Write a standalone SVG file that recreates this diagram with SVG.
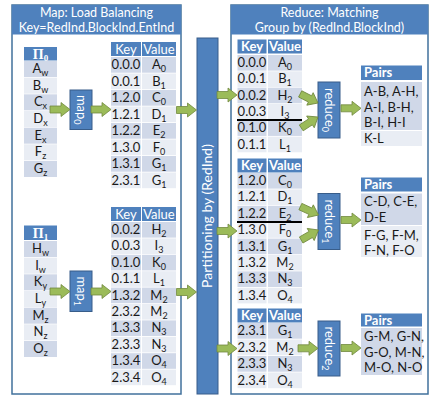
<svg xmlns="http://www.w3.org/2000/svg" xmlns:xlink="http://www.w3.org/1999/xlink" width="435" height="407" viewBox="0 0 435 407">
<style>
.pan{fill:#fff;stroke:#41719C;stroke-width:1.5}
.hb{fill:#4F81BD}
.box{fill:#4F81BD;stroke:#385D8A;stroke-width:1}
.d{fill:#D0D8E8}
.l{fill:#E9EDF4}
text{font-family:Lato,"Liberation Sans",sans-serif;font-size:13px;fill:#1a1a1a}
.c{text-anchor:middle}
.w{fill:#fff}
.b{font-weight:bold}
.ti{font-size:12.5px;fill:#fff;text-anchor:middle}
.tp{font-size:14px;fill:#fff;text-anchor:middle}
.s{font-size:9px}
.pi{font-family:"Liberation Serif",serif;font-weight:bold;fill:#fff;font-size:14px}
.arr{fill:#9BBB59;stroke:#71893F;stroke-width:0.8}
.cut{stroke:#000;stroke-width:2.2}
</style>
<defs>
<path id="ah" d="M-20,-3.5 H-9 V-7 L0,0 L-9,7 V3.5 H-20 Z"/>
</defs>

<g id="map-panel">
<rect class="pan" x="12" y="5" width="169" height="389"/>
<rect class="hb" x="12" y="5" width="169" height="29.5"/>
<text class="ti" x="96.5" y="16.5">Map: Load Balancing</text>
<text class="ti" x="96.5" y="32">Key=RedInd.BlockInd.EntInd</text>
</g>

<g id="pi0">
<rect class="hb" x="24" y="47" width="33" height="13.5"/>
<text class="pi c" x="40.5" y="58.5">Π<tspan class="s" dy="2">0</tspan></text>
<rect class="d" x="24" y="61" width="33" height="16"/>
<rect class="l" x="24" y="77.67" width="33" height="16"/>
<rect class="d" x="24" y="94.33" width="33" height="16"/>
<rect class="l" x="24" y="111" width="33" height="16"/>
<rect class="d" x="24" y="127.67" width="33" height="16"/>
<rect class="l" x="24" y="144.33" width="33" height="16"/>
<rect class="d" x="24" y="161" width="33" height="16"/>
<text class="c" x="40.5" y="73">A<tspan class="s" dy="3">w</tspan></text>
<text class="c" x="40.5" y="89.67">B<tspan class="s" dy="3">w</tspan></text>
<text class="c" x="40.5" y="106.33">C<tspan class="s" dy="3">x</tspan></text>
<text class="c" x="40.5" y="123">D<tspan class="s" dy="3">x</tspan></text>
<text class="c" x="40.5" y="139.67">E<tspan class="s" dy="3">x</tspan></text>
<text class="c" x="40.5" y="156.33">F<tspan class="s" dy="3">z</tspan></text>
<text class="c" x="40.5" y="173">G<tspan class="s" dy="3">z</tspan></text>
</g>

<g id="pi1">
<rect class="hb" x="24" y="225.5" width="33" height="14.5"/>
<text class="pi c" x="40.5" y="237.5">Π<tspan class="s" dy="2">1</tspan></text>
<rect class="d" x="24" y="241" width="33" height="16"/>
<rect class="l" x="24" y="257.67" width="33" height="16"/>
<rect class="d" x="24" y="274.33" width="33" height="16"/>
<rect class="l" x="24" y="291" width="33" height="16"/>
<rect class="d" x="24" y="307.67" width="33" height="16"/>
<rect class="l" x="24" y="324.33" width="33" height="16"/>
<rect class="d" x="24" y="341" width="33" height="16"/>
<text class="c" x="40.5" y="253">H<tspan class="s" dy="3">w</tspan></text>
<text class="c" x="40.5" y="269.67">I<tspan class="s" dy="3">w</tspan></text>
<text class="c" x="40.5" y="286.33">K<tspan class="s" dy="3">y</tspan></text>
<text class="c" x="40.5" y="303">L<tspan class="s" dy="3">y</tspan></text>
<text class="c" x="40.5" y="319.67">M<tspan class="s" dy="3">z</tspan></text>
<text class="c" x="40.5" y="336.33">N<tspan class="s" dy="3">z</tspan></text>
<text class="c" x="40.5" y="353">O<tspan class="s" dy="3">z</tspan></text>
</g>

<g id="map0">
<rect class="box" x="70" y="90" width="22" height="39.5"/>
<text class="w c" transform="translate(77,109.75) rotate(90)">map<tspan class="s" dy="3">0</tspan></text>
</g>
<g id="map1">
<rect class="box" x="70" y="271" width="22" height="40.5"/>
<text class="w c" transform="translate(77,291.25) rotate(90)">map<tspan class="s" dy="3">1</tspan></text>
</g>

<g id="kv-map0">
<rect class="hb" x="111" y="42" width="30" height="14"/>
<rect class="hb" x="142" y="42" width="34" height="14"/>
<text class="w c" x="126" y="53.5">Key</text>
<text class="w c" x="159" y="53.5">Value</text>
<rect class="d" x="111" y="57" width="30" height="15.7"/><rect class="d" x="142" y="57" width="34" height="15.7"/>
<rect class="l" x="111" y="73.5" width="30" height="15.7"/><rect class="l" x="142" y="73.5" width="34" height="15.7"/>
<rect class="d" x="111" y="90" width="30" height="15.7"/><rect class="d" x="142" y="90" width="34" height="15.7"/>
<rect class="l" x="111" y="106.5" width="30" height="15.7"/><rect class="l" x="142" y="106.5" width="34" height="15.7"/>
<rect class="d" x="111" y="123" width="30" height="15.7"/><rect class="d" x="142" y="123" width="34" height="15.7"/>
<rect class="l" x="111" y="139.5" width="30" height="15.7"/><rect class="l" x="142" y="139.5" width="34" height="15.7"/>
<rect class="d" x="111" y="156" width="30" height="15.7"/><rect class="d" x="142" y="156" width="34" height="15.7"/>
<rect class="l" x="111" y="172.5" width="30" height="15.7"/><rect class="l" x="142" y="172.5" width="34" height="15.7"/>
<text class="c" x="126" y="69">0.0.0</text><text class="c" x="159" y="69">A<tspan class="s" dy="3">0</tspan></text>
<text class="c" x="126" y="85.5">0.0.1</text><text class="c" x="159" y="85.5">B<tspan class="s" dy="3">1</tspan></text>
<text class="c" x="126" y="102">1.2.0</text><text class="c" x="159" y="102">C<tspan class="s" dy="3">0</tspan></text>
<text class="c" x="126" y="118.5">1.2.1</text><text class="c" x="159" y="118.5">D<tspan class="s" dy="3">1</tspan></text>
<text class="c" x="126" y="135">1.2.2</text><text class="c" x="159" y="135">E<tspan class="s" dy="3">2</tspan></text>
<text class="c" x="126" y="151.5">1.3.0</text><text class="c" x="159" y="151.5">F<tspan class="s" dy="3">0</tspan></text>
<text class="c" x="126" y="168">1.3.1</text><text class="c" x="159" y="168">G<tspan class="s" dy="3">1</tspan></text>
<text class="c" x="126" y="184.5">2.3.1</text><text class="c" x="159" y="184.5">G<tspan class="s" dy="3">1</tspan></text>
</g>

<g id="kv-map1">
<rect class="hb" x="111" y="207" width="30" height="14"/>
<rect class="hb" x="142" y="207" width="34" height="14"/>
<text class="w c" x="126" y="218.5">Key</text>
<text class="w c" x="159" y="218.5">Value</text>
<rect class="d" x="111" y="222" width="30" height="15.6"/><rect class="d" x="142" y="222" width="34" height="15.6"/>
<rect class="l" x="111" y="238.4" width="30" height="15.6"/><rect class="l" x="142" y="238.4" width="34" height="15.6"/>
<rect class="d" x="111" y="254.8" width="30" height="15.6"/><rect class="d" x="142" y="254.8" width="34" height="15.6"/>
<rect class="l" x="111" y="271.2" width="30" height="15.6"/><rect class="l" x="142" y="271.2" width="34" height="15.6"/>
<rect class="d" x="111" y="287.6" width="30" height="15.6"/><rect class="d" x="142" y="287.6" width="34" height="15.6"/>
<rect class="l" x="111" y="304" width="30" height="15.6"/><rect class="l" x="142" y="304" width="34" height="15.6"/>
<rect class="d" x="111" y="320.4" width="30" height="15.6"/><rect class="d" x="142" y="320.4" width="34" height="15.6"/>
<rect class="l" x="111" y="336.8" width="30" height="15.6"/><rect class="l" x="142" y="336.8" width="34" height="15.6"/>
<rect class="d" x="111" y="353.2" width="30" height="15.6"/><rect class="d" x="142" y="353.2" width="34" height="15.6"/>
<rect class="l" x="111" y="369.6" width="30" height="15.6"/><rect class="l" x="142" y="369.6" width="34" height="15.6"/>
<text class="c" x="126" y="234">0.0.2</text><text class="c" x="159" y="234">H<tspan class="s" dy="3">2</tspan></text>
<text class="c" x="126" y="250.4">0.0.3</text><text class="c" x="159" y="250.4">I<tspan class="s" dy="3">3</tspan></text>
<text class="c" x="126" y="266.8">0.1.0</text><text class="c" x="159" y="266.8">K<tspan class="s" dy="3">0</tspan></text>
<text class="c" x="126" y="283.2">0.1.1</text><text class="c" x="159" y="283.2">L<tspan class="s" dy="3">1</tspan></text>
<text class="c" x="126" y="299.6">1.3.2</text><text class="c" x="159" y="299.6">M<tspan class="s" dy="3">2</tspan></text>
<text class="c" x="126" y="316">2.3.2</text><text class="c" x="159" y="316">M<tspan class="s" dy="3">2</tspan></text>
<text class="c" x="126" y="332.4">1.3.3</text><text class="c" x="159" y="332.4">N<tspan class="s" dy="3">3</tspan></text>
<text class="c" x="126" y="348.8">2.3.3</text><text class="c" x="159" y="348.8">N<tspan class="s" dy="3">3</tspan></text>
<text class="c" x="126" y="365.2">1.3.4</text><text class="c" x="159" y="365.2">O<tspan class="s" dy="3">4</tspan></text>
<text class="c" x="126" y="381.6">2.3.4</text><text class="c" x="159" y="381.6">O<tspan class="s" dy="3">4</tspan></text>
</g>

<g id="partition">
<rect class="box" x="197" y="38" width="21" height="356"/>
<text class="tp" transform="translate(212,216) rotate(-90)">Partitioning by (RedInd)</text>
</g>

<g id="reduce-panel">
<rect class="pan" x="231" y="5" width="197" height="389"/>
<rect class="hb" x="231" y="5" width="197" height="29.5"/>
<text class="ti" x="329.5" y="16.5">Reduce: Matching</text>
<text class="ti" x="329.5" y="32">Group by (RedInd.BlockInd)</text>
</g>

<g id="kv-red0">
<rect class="hb" x="237.5" y="39.5" width="29" height="14"/>
<rect class="hb" x="268" y="39.5" width="34" height="14"/>
<text class="w c b" x="252" y="51">Key</text>
<text class="w c b" x="285" y="51">Value</text>
<rect class="d" x="237.5" y="55" width="29" height="15.6"/><rect class="d" x="268" y="55" width="34" height="15.6"/>
<rect class="l" x="237.5" y="71.33" width="29" height="15.6"/><rect class="l" x="268" y="71.33" width="34" height="15.6"/>
<rect class="d" x="237.5" y="87.67" width="29" height="15.6"/><rect class="d" x="268" y="87.67" width="34" height="15.6"/>
<rect class="l" x="237.5" y="104" width="29" height="15.6"/><rect class="l" x="268" y="104" width="34" height="15.6"/>
<rect class="d" x="237.5" y="120.33" width="29" height="15.6"/><rect class="d" x="268" y="120.33" width="34" height="15.6"/>
<rect class="l" x="237.5" y="136.67" width="29" height="15.6"/><rect class="l" x="268" y="136.67" width="34" height="15.6"/>
<text class="c" x="252" y="67">0.0.0</text><text class="c" x="285" y="67">A<tspan class="s" dy="3">0</tspan></text>
<text class="c" x="252" y="83.33">0.0.1</text><text class="c" x="285" y="83.33">B<tspan class="s" dy="3">1</tspan></text>
<text class="c" x="252" y="99.67">0.0.2</text><text class="c" x="285" y="99.67">H<tspan class="s" dy="3">2</tspan></text>
<text class="c" x="252" y="116">0.0.3</text><text class="c" x="285" y="116">I<tspan class="s" dy="3">3</tspan></text>
<text class="c" x="252" y="132.33">0.1.0</text><text class="c" x="285" y="132.33">K<tspan class="s" dy="3">0</tspan></text>
<text class="c" x="252" y="148.67">0.1.1</text><text class="c" x="285" y="148.67">L<tspan class="s" dy="3">1</tspan></text>
<line class="cut" x1="237" y1="120" x2="302" y2="120"/>
</g>

<g id="kv-red1">
<rect class="hb" x="237.5" y="158.5" width="29" height="14"/>
<rect class="hb" x="268" y="158.5" width="34" height="14"/>
<text class="w c b" x="252" y="170">Key</text>
<text class="w c b" x="285" y="170">Value</text>
<rect class="d" x="237.5" y="173" width="29" height="15.6"/><rect class="d" x="268" y="173" width="34" height="15.6"/>
<rect class="l" x="237.5" y="189.4" width="29" height="15.6"/><rect class="l" x="268" y="189.4" width="34" height="15.6"/>
<rect class="d" x="237.5" y="205.8" width="29" height="15.6"/><rect class="d" x="268" y="205.8" width="34" height="15.6"/>
<rect class="l" x="237.5" y="222.2" width="29" height="15.6"/><rect class="l" x="268" y="222.2" width="34" height="15.6"/>
<rect class="d" x="237.5" y="238.6" width="29" height="15.6"/><rect class="d" x="268" y="238.6" width="34" height="15.6"/>
<rect class="l" x="237.5" y="255" width="29" height="15.6"/><rect class="l" x="268" y="255" width="34" height="15.6"/>
<rect class="d" x="237.5" y="271.4" width="29" height="15.6"/><rect class="d" x="268" y="271.4" width="34" height="15.6"/>
<rect class="l" x="237.5" y="287.8" width="29" height="15.6"/><rect class="l" x="268" y="287.8" width="34" height="15.6"/>
<text class="c" x="252" y="185">1.2.0</text><text class="c" x="285" y="185">C<tspan class="s" dy="3">0</tspan></text>
<text class="c" x="252" y="201.4">1.2.1</text><text class="c" x="285" y="201.4">D<tspan class="s" dy="3">1</tspan></text>
<text class="c" x="252" y="217.8">1.2.2</text><text class="c" x="285" y="217.8">E<tspan class="s" dy="3">2</tspan></text>
<text class="c" x="252" y="234.2">1.3.0</text><text class="c" x="285" y="234.2">F<tspan class="s" dy="3">0</tspan></text>
<text class="c" x="252" y="250.6">1.3.1</text><text class="c" x="285" y="250.6">G<tspan class="s" dy="3">1</tspan></text>
<text class="c" x="252" y="267">1.3.2</text><text class="c" x="285" y="267">M<tspan class="s" dy="3">2</tspan></text>
<text class="c" x="252" y="283.4">1.3.3</text><text class="c" x="285" y="283.4">N<tspan class="s" dy="3">3</tspan></text>
<text class="c" x="252" y="299.8">1.3.4</text><text class="c" x="285" y="299.8">O<tspan class="s" dy="3">4</tspan></text>
<line class="cut" x1="237" y1="222" x2="302" y2="222"/>
</g>

<g id="kv-red2">
<rect class="hb" x="237.5" y="308.5" width="29" height="14"/>
<rect class="hb" x="268" y="308.5" width="34" height="14"/>
<text class="w c b" x="252" y="320">Key</text>
<text class="w c b" x="285" y="320">Value</text>
<rect class="d" x="237.5" y="323" width="29" height="15.7"/><rect class="d" x="268" y="323" width="34" height="15.7"/>
<rect class="l" x="237.5" y="339.5" width="29" height="15.7"/><rect class="l" x="268" y="339.5" width="34" height="15.7"/>
<rect class="d" x="237.5" y="356" width="29" height="15.7"/><rect class="d" x="268" y="356" width="34" height="15.7"/>
<rect class="l" x="237.5" y="372.5" width="29" height="15.7"/><rect class="l" x="268" y="372.5" width="34" height="15.7"/>
<text class="c" x="252" y="335">2.3.1</text><text class="c" x="285" y="335">G<tspan class="s" dy="3">1</tspan></text>
<text class="c" x="252" y="351.5">2.3.2</text><text class="c" x="285" y="351.5">M<tspan class="s" dy="3">2</tspan></text>
<text class="c" x="252" y="368">2.3.3</text><text class="c" x="285" y="368">N<tspan class="s" dy="3">3</tspan></text>
<text class="c" x="252" y="384.5">2.3.4</text><text class="c" x="285" y="384.5">O<tspan class="s" dy="3">4</tspan></text>
</g>

<g id="reduce0">
<rect class="box" x="318" y="82" width="22" height="56"/>
<text class="w c" transform="translate(325,110) rotate(90)">reduce<tspan class="s" dy="3">0</tspan></text>
</g>
<g id="reduce1">
<rect class="box" x="318" y="193.5" width="22" height="56"/>
<text class="w c" transform="translate(325,221.5) rotate(90)">reduce<tspan class="s" dy="3">1</tspan></text>
</g>
<g id="reduce2">
<rect class="box" x="318" y="321" width="22" height="55"/>
<text class="w c" transform="translate(325,348.5) rotate(90)">reduce<tspan class="s" dy="3">2</tspan></text>
</g>

<g id="pairs0">
<rect class="hb" x="361" y="65.5" width="61" height="14.5"/>
<text class="w b" x="364" y="77">Pairs</text>
<rect class="d" x="361" y="82" width="61" height="48"/>
<rect class="l" x="361" y="131" width="61" height="15"/>
<text x="364" y="96">A-B, A-H,</text>
<text x="364" y="111.5">A-I, B-H,</text>
<text x="364" y="127">B-I, H-I</text>
<text x="364" y="143">K-L</text>
</g>
<g id="pairs1">
<rect class="hb" x="361" y="177.5" width="61" height="14"/>
<text class="w b" x="364" y="189">Pairs</text>
<rect class="d" x="361" y="193.5" width="61" height="31.5"/>
<rect class="l" x="361" y="226" width="61" height="31"/>
<text x="364" y="206">C-D, C-E,</text>
<text x="364" y="221.5">D-E</text>
<text x="364" y="239.5">F-G, F-M,</text>
<text x="364" y="255">F-N, F-O</text>
</g>
<g id="pairs2">
<rect class="hb" x="361" y="313.5" width="61" height="13"/>
<text class="w b" x="364" y="324.5">Pairs</text>
<rect class="d" x="361" y="328" width="61" height="47"/>
<text x="364" y="341">G-M, G-N,</text>
<text x="364" y="356.5">G-O, M-N,</text>
<text x="364" y="372">M-O, N-O</text>
</g>

<g id="connectors">
<use class="arr" xlink:href="#ah" transform="translate(70,109.5)"/>
<use class="arr" xlink:href="#ah" transform="translate(111,109.5)"/>
<use class="arr" xlink:href="#ah" transform="translate(196.5,110)"/>
<use class="arr" xlink:href="#ah" transform="translate(70,291.5)"/>
<use class="arr" xlink:href="#ah" transform="translate(111,291.5)"/>
<use class="arr" xlink:href="#ah" transform="translate(196.5,292)"/>
<use class="arr" xlink:href="#ah" transform="translate(237,95)"/>
<use class="arr" xlink:href="#ah" transform="translate(237,231)"/>
<use class="arr" xlink:href="#ah" transform="translate(237,348.5)"/>
<use class="arr" xlink:href="#ah" transform="translate(318,103) rotate(27)"/>
<use class="arr" xlink:href="#ah" transform="translate(318,117) rotate(-33)"/>
<use class="arr" xlink:href="#ah" transform="translate(318.5,215) rotate(25)"/>
<use class="arr" xlink:href="#ah" transform="translate(318.5,230) rotate(-30)"/>
<use class="arr" xlink:href="#ah" transform="translate(318,348.3)"/>
<use class="arr" xlink:href="#ah" transform="translate(361,108.3)"/>
<use class="arr" xlink:href="#ah" transform="translate(361,220)"/>
<use class="arr" xlink:href="#ah" transform="translate(361,348)"/>
</g>
</svg>
